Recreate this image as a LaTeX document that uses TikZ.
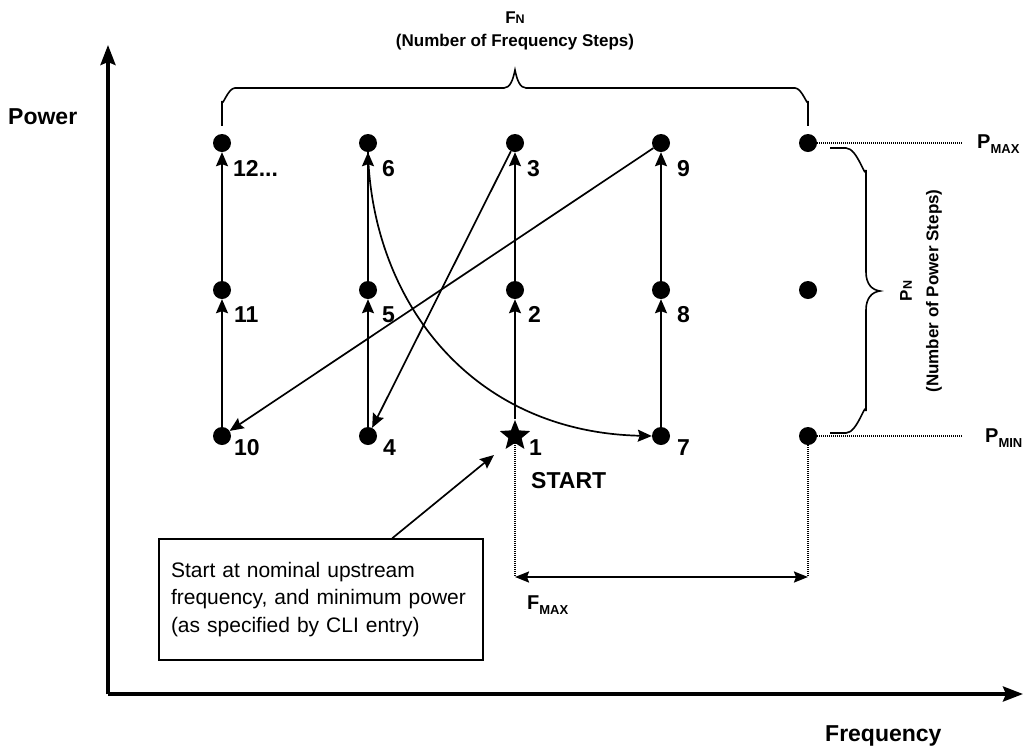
\documentclass[tikz,border=0pt]{standalone}
\usepackage{fontspec}
\setmainfont{Liberation Sans}
\usetikzlibrary{arrows.meta,shapes.geometric,calc}
\begin{document}
\begin{tikzpicture}[x=1pt,y=-1pt,
  dot/.style={circle,fill=black,inner sep=0pt,minimum size=18pt},
  startstar/.style={star,star points=5,star point ratio=2.3,fill=black,inner sep=0pt,minimum size=32pt},
  num/.style={anchor=base west,inner sep=0pt,font=\fontsize{23}{23}\selectfont\bfseries},
  big/.style={inner sep=0pt,font=\fontsize{23}{23}\selectfont\bfseries},
  small/.style={inner sep=0pt,font=\fontsize{17}{17}\selectfont\bfseries},
  conn/.style={line width=1.7pt,-{Stealth[length=14pt,width=12pt,inset=2pt]}},
  axis/.style={line width=3.5pt,-{Stealth[length=20pt,width=15pt,inset=3pt]}},
  guide/.style={line width=1.2pt,dash pattern=on 1pt off 1pt},
  hatch/.style={line width=2pt,dash pattern=on 1pt off 1pt},
  bracket/.style={line width=1.6pt}]
\useasboundingbox[fill=white] (0,0) rectangle (1029,748);

% axes
\coordinate (O) at (108,694);
\coordinate (ytop) at (108,45);
\coordinate (xend) at (1023,694);
\draw[axis] (O) -- (ytop);
\draw[axis] (O) -- (xend);
\node[big,anchor=base west] (power) at (8,124) {Power};
\node[big,anchor=base west] (freq) at (825,741) {Frequency};

% dots
\node[dot] (d12) at (222,143) {};
\node[dot] (d11) at (222,290) {};
\node[dot] (d10) at (222,436) {};
\node[dot] (d6) at (368,143) {};
\node[dot] (d5) at (368,290) {};
\node[dot] (d4) at (368,436) {};
\node[dot] (d3) at (515,143) {};
\node[dot] (d2) at (515,290) {};
\node[startstar] (d1) at (515,436) {};
\node[dot] (d9) at (661,143) {};
\node[dot] (d8) at (661,290) {};
\node[dot] (d7) at (661,436) {};
\node[dot] (dmax) at (808,143) {};
\node[dot] (dmid) at (808,290) {};
\node[dot] (dmin) at (808,436) {};

% number labels
\node[num] (l12) at ($(d12)+(11,33)$) {12...};
\node[num] (l11) at ($(d11)+(12,32)$) {11};
\node[num] (l10) at ($(d10)+(12,19)$) {10};
\node[num] (l6) at ($(d6)+(14,33)$) {6};
\node[num] (l5) at ($(d5)+(14,32)$) {5};
\node[num] (l4) at ($(d4)+(15,19)$) {4};
\node[num] (l3) at ($(d3)+(12,33)$) {3};
\node[num] (l2) at ($(d2)+(13,32)$) {2};
\node[num] (l1) at ($(d1)+(14,19)$) {1};
\node[num] (l9) at ($(d9)+(16,33)$) {9};
\node[num] (l8) at ($(d8)+(16,32)$) {8};
\node[num] (l7) at ($(d7)+(16,19)$) {7};
\node[num] (lstart) at ($(d1)+(16,52)$) {START};

% path connectors
\draw[conn] (d1) -- (d2);
\draw[conn] (d2) -- (d3);
\draw[conn] (d3) -- (d4);
\draw[conn] (d4) -- (d5);
\draw[conn] (d5) -- (d6);
\draw[conn] (d6.south) .. controls (372,300) and (470,432) .. (d7.west);
\draw[conn] (d7) -- (d8);
\draw[conn] (d8) -- (d9);
\draw[conn] (d9) -- (d10);
\draw[conn] (d10) -- (d11);
\draw[conn] (d11) -- (d12);

% top brace F_N
\draw[bracket] (d12.north) ++(0,-8) -- (222,101) to[out=-90,in=180] (235,88) -- (504,88)
  .. controls (510,88) and (513,80) .. (515,70)
  .. controls (517,80) and (520,88) .. (526,88) -- (795,88)
  to[out=0,in=-90] (808,101) -- ($(dmax.north)+(0,-8)$);
\node[inner sep=0pt,anchor=base,font=\bfseries] (fn) at (515,23)
  {{\fontsize{17}{17}\selectfont F}{\fontsize{12.5}{12.5}\selectfont N}};
\node[small,anchor=base] (fnt) at (515,46) {(Number of Frequency Steps)};

% right brace P_N
\draw[bracket] (830,148) -- (846,148) to[out=0,in=-90] (866,170) -- (866,272)
  .. controls (866,284) and (872,290) .. (880,291)
  .. controls (872,292) and (866,298) .. (866,310) -- (866,411)
  to[out=90,in=0] (846,433) -- (830,433);
\node[inner sep=0pt,rotate=90,font=\bfseries] (pn) at (906,291)
  {{\fontsize{17}{17}\selectfont P}{\fontsize{12.5}{12.5}\selectfont N}};
\node[small,rotate=90] (pnt) at (934,291) {(Number of Power Steps)};

% P_MAX / P_MIN guides
\coordinate (gmax) at (962,143);
\coordinate (gmin) at (962,436);
\draw[guide] (dmax.east) -- (gmax);
\draw[guide] (dmin.east) -- (gmin);
\node[inner sep=0pt,anchor=base west,font=\bfseries] (pmax) at (977,148)
  {{\fontsize{20}{20}\selectfont P}\raisebox{-5pt}{\fontsize{13}{13}\selectfont MAX}};
\node[inner sep=0pt,anchor=base west,font=\bfseries] (pmin) at (985,442)
  {{\fontsize{20}{20}\selectfont P}\raisebox{-5pt}{\fontsize{13}{13}\selectfont MIN}};

% F_MAX
\coordinate (f1) at (515,577);
\coordinate (f2) at (808,577);
\draw[hatch] (d1.south) -- (f1);
\draw[hatch] (dmin.south) -- (f2);
\draw[line width=2pt,{Stealth[length=14pt,width=11pt,inset=2pt]}-{Stealth[length=14pt,width=11pt,inset=2pt]}] (f1) -- (f2);
\node[inner sep=0pt,anchor=base west,font=\bfseries] (fmax) at (527,609)
  {{\fontsize{20}{20}\selectfont F}\raisebox{-5pt}{\fontsize{13}{13}\selectfont MAX}};

% note box
\node[draw,line width=1.5pt,minimum width=324pt,minimum height=121pt,
  text width=300pt,inner xsep=12pt,align=left,
  font=\fontsize{21}{27.5}\selectfont] (box) at (321,599.5)
  {Start at nominal upstream\\frequency, and minimum power\\(as specified by CLI entry)};
\coordinate (ptip) at (494,455);
\draw[conn] ($(box.north west)+(234,0)$) -- (ptip);
\end{tikzpicture}
\end{document}
